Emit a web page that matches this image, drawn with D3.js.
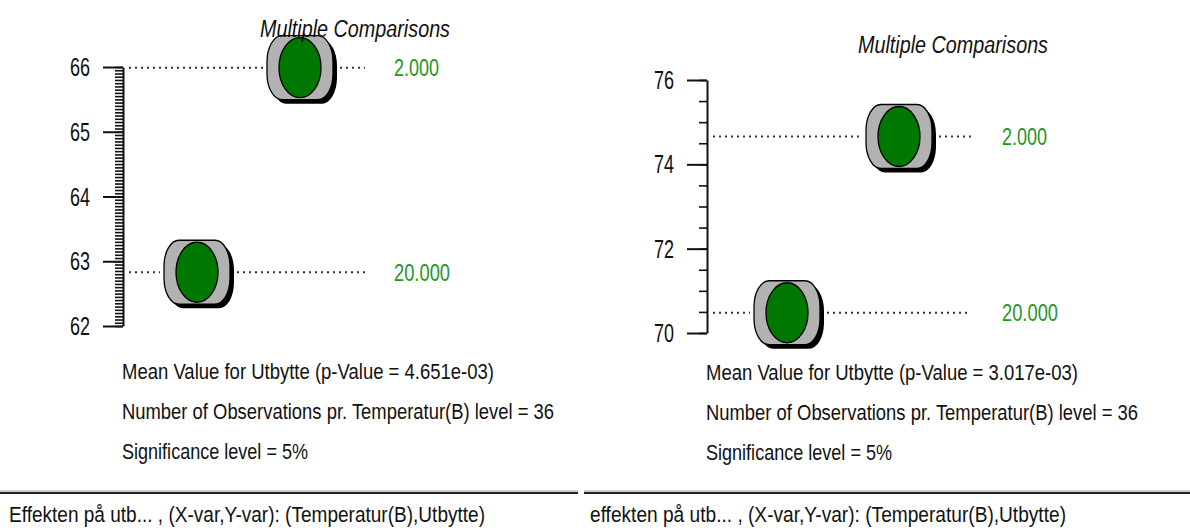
<!DOCTYPE html>
<html>
<head>
<meta charset="utf-8">
<script src="https://cdn.jsdelivr.net/npm/d3@7/dist/d3.min.js"></script>
<style>
  html, body { margin: 0; padding: 0; background: #fff; }
  svg { display: block; }
  text { font-family: "Liberation Sans", Arial, sans-serif; }
</style>
</head>
<body>
<svg id="chart" width="1190" height="528"></svg>
<script>
// Factor levels of Temperatur(B)
const levels = ["2.000", "20.000"];

// Mean Utbytte per level, one array per analysis
const meansLeft = [65.99, 62.83];
const meansRight = [74.66, 70.48];

// Y axis domains and labelled ticks
const domainLeft = [62, 66];
const domainRight = [70, 76];
const ticksLeft = [62, 63, 64, 65, 66];
const ticksRight = [70, 72, 74, 76];
const minorStepLeft = 0.05;
const minorStepRight = 0.5;

// Text blocks
const titleText = "Multiple Comparisons";
const pValues = ["4.651e-03", "3.017e-03"];
const obsPerLevel = [36, 36];
const sigLevel = ["5%", "5%"];
const captions = [
  "Effekten på utb... , (X-var,Y-var): (Temperatur(B),Utbytte)",
  "effekten på utb... , (X-var,Y-var): (Temperatur(B),Utbytte)"
];

const svg = d3.select("#chart");

// Layout of each panel
const panels = [
  {
    means: meansLeft, domain: domainLeft, ticks: ticksLeft, minor: minorStepLeft,
    axisX: 123, yRange: [326, 67], xRange: [197, 300],
    lineEnd: 365, labelX: 394, titleX: 260, titleY: 37,
    noteX: 122, noteY: [371, 411, 451],
    sepX: [0, 578], capX: 9,
    p: pValues[0], n: obsPerLevel[0], sig: sigLevel[0], caption: captions[0]
  },
  {
    means: meansRight, domain: domainRight, ticks: ticksRight, minor: minorStepRight,
    axisX: 707, yRange: [333, 80], xRange: [787, 899],
    lineEnd: 971, labelX: 1002, titleX: 858, titleY: 53,
    noteX: 706, noteY: [372, 412, 452],
    sepX: [584, 1190], capX: 590,
    p: pValues[1], n: obsPerLevel[1], sig: sigLevel[1], caption: captions[1]
  }
];

function fitText(sel, len) {
  sel.attr("textLength", len).attr("lengthAdjust", "spacingAndGlyphs");
}

// Tall, condensed text: small font stretched vertically, width fixed by textLength
function tallText(parent, x, y, str, size, stretch, len, fill) {
  return parent.append("text")
    .attr("transform", `translate(${x},${y}) scale(1,${stretch})`)
    .attr("dy", "0.36em")
    .style("font-size", size + "px")
    .attr("fill", fill || "#111")
    .text(str)
    .call(fitText, len);
}

panels.forEach(pn => {
  const g = svg.append("g");
  const y = d3.scaleLinear().domain(pn.domain).range(pn.yRange);
  const x = d3.scalePoint().domain(levels.slice().reverse()).range(pn.xRange);

  // minor ticks
  const minorTicks = d3.range(pn.domain[0], pn.domain[1] + pn.minor / 2, pn.minor);
  g.append("g")
    .attr("transform", `translate(${pn.axisX},0)`)
    .call(d3.axisLeft(y).tickValues(minorTicks).tickSize(8).tickSizeOuter(0).tickFormat(""))
    .call(a => a.select(".domain").remove())
    .call(a => a.selectAll("line").attr("stroke", "#111").attr("stroke-width", 1.6));

  // major ticks + labels
  const major = g.append("g")
    .attr("transform", `translate(${pn.axisX},0)`)
    .call(d3.axisLeft(y).tickValues(pn.ticks).tickSize(20).tickSizeOuter(0).tickPadding(13).tickFormat(d3.format("d")));
  major.select(".domain").attr("stroke", "#111").attr("stroke-width", 2);
  major.selectAll(".tick line").attr("stroke", "#111").attr("stroke-width", 2);
  major.selectAll(".tick text")
    .attr("fill", "#111")
    .style("font-size", "25px")
    .attr("dy", "0.34em")
    .call(fitText, 20);

  const halfW = 33, halfH = 32, shadow = 4;

  levels.forEach((lv, i) => {
    const cx = x(lv), cy = y(pn.means[i]);

    // dotted guide lines
    const dots = [[pn.axisX + 6, cx - halfW - 4], [cx + halfW + shadow + 3, pn.lineEnd]];
    dots.forEach(([a, b]) => {
      g.append("line")
        .attr("x1", a).attr("x2", b).attr("y1", cy).attr("y2", cy)
        .attr("stroke", "#333").attr("stroke-width", 2)
        .attr("stroke-dasharray", "2 4");
    });

    // marker: shadow, grey barrel, green ellipse
    const m = g.append("g").attr("transform", `translate(${cx},${cy})`);
    m.append("rect")
      .attr("x", -halfW + shadow).attr("y", -halfH + shadow)
      .attr("width", halfW * 2).attr("height", halfH * 2)
      .attr("rx", 15).attr("ry", 26)
      .attr("fill", "#000");
    m.append("rect")
      .attr("x", -halfW).attr("y", -halfH)
      .attr("width", halfW * 2).attr("height", halfH * 2)
      .attr("rx", 15).attr("ry", 26)
      .attr("fill", "#b2b2b2").attr("stroke", "#000").attr("stroke-width", 1.3);
    m.append("ellipse")
      .attr("rx", 21).attr("ry", 30)
      .attr("fill", "#007800").attr("stroke", "#000").attr("stroke-width", 1.3);

    // level label
    g.append("text")
      .attr("x", pn.labelX).attr("y", cy).attr("dy", "0.36em")
      .style("font-size", "23px")
      .attr("fill", "#1f961f")
      .text(lv)
      .call(fitText, lv.length === 5 ? 45 : 56);
  });

  // title, drawn over the markers
  g.append("text")
    .attr("x", pn.titleX).attr("y", pn.titleY)
    .style("font-size", "23px").style("font-style", "italic")
    .attr("fill", "#111")
    .text(titleText)
    .call(fitText, 190);

  // notes under the axis
  const notes = [
    `Mean Value for Utbytte (p-Value = ${pn.p})`,
    `Number of Observations pr. Temperatur(B) level = ${pn.n}`,
    `Significance level = ${pn.sig}`
  ];
  const noteLens = [372, 432, 186];
  notes.forEach((t, i) => tallText(g, pn.noteX, pn.noteY[i], t, 18, 1.22, noteLens[i]));

  // separator and caption
  g.append("line")
    .attr("x1", pn.sepX[0]).attr("x2", pn.sepX[1]).attr("y1", 491).attr("y2", 491)
    .attr("stroke", "#9a9a9a").attr("stroke-width", 1);
  g.append("line")
    .attr("x1", pn.sepX[0]).attr("x2", pn.sepX[1]).attr("y1", 493).attr("y2", 493)
    .attr("stroke", "#222").attr("stroke-width", 2);
  tallText(g, pn.capX, 514, pn.caption, 18, 1.22, 476);
});
</script>
</body>
</html>
